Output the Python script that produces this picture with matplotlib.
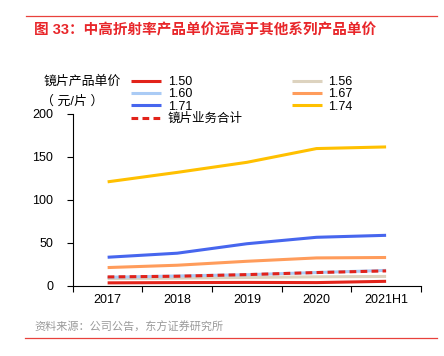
import matplotlib
matplotlib.use("Agg")
import matplotlib.pyplot as plt
from matplotlib.lines import Line2D

plt.rcParams['font.family'] = ['Liberation Sans', 'Noto Sans CJK SC', 'DejaVu Sans']

# data (元/片)
years = ['2017', '2018', '2019', '2020', '2021H1']
p150 = [3.5, 3.8, 4.0, 3.8, 5.3]
p156 = [8.5, 9.0, 9.8, 10.5, 11.0]
p160 = [10.0, 11.5, 13.0, 15.5, 18.0]
p167 = [21.3, 24.0, 28.6, 32.5, 33.0]
p171 = [33.3, 38.0, 49.0, 56.5, 58.8]
p174 = [121.0, 132.0, 143.7, 159.7, 161.6]
total = [10.4, 11.2, 13.1, 15.5, 17.4]

series = [
    ('1.50', p150, '#e2231a'),
    ('1.56', p156, '#ddd3bf'),
    ('1.60', p160, '#aacbf5'),
    ('1.67', p167, '#ff9c5b'),
    ('1.71', p171, '#4766ee'),
    ('1.74', p174, '#ffc000'),
]

fig = plt.figure(figsize=(4.44, 3.56), dpi=100)
ax = fig.add_axes([0.164, 0.197, 0.784, 0.483])

x = list(range(len(years)))
handles = {}
for name, vals, col in series:
    ln, = ax.plot(x, vals, color=col, lw=2.2, solid_capstyle='butt')
    handles[name] = ln
tl, = ax.plot(x, total, color='#e2231a', lw=2.2, ls=(0, (2.2, 1.4)))

ax.set_xlim(-0.5, len(years) - 0.5)
ax.set_ylim(0, 200)
ax.set_yticks([0, 50, 100, 150, 200])
ax.set_xticks([i - 0.5 for i in range(len(years) + 1)])
ax.set_xticklabels([])
ax.set_xticks(x, minor=True)
ax.set_xticklabels(years, minor=True)
ax.tick_params(axis='x', which='minor', length=0, labelsize=9, pad=6)
ax.tick_params(axis='x', which='major', length=4, width=0.8)
ax.tick_params(axis='y', length=4, width=0.8, labelsize=9, pad=10)
for s in ['top', 'right']:
    ax.spines[s].set_visible(False)
for s in ['left', 'bottom']:
    ax.spines[s].set_linewidth(0.8)

order = ['1.50', '1.60', '1.71', None, '1.56', '1.67', '1.74']
hs, ls = [], []
for o in order:
    if o is None:
        hs.append(tl)
        ls.append('镜片业务合计')
    else:
        hs.append(handles[o])
        ls.append(o)
fig.legend(hs, ls, ncol=2, frameon=False, fontsize=9,
           loc='upper left', bbox_to_anchor=(0.295, 0.786),
           handlelength=2.4, handletextpad=0.55, columnspacing=3.9,
           labelspacing=0.02, borderaxespad=0, borderpad=0)

fig.text(0.099, 0.772, '镜片产品单价', fontsize=9.3, va='center', ha='left')
fig.text(0.092, 0.714, '（ 元/片 ）', fontsize=9.3, va='center', ha='left')

# header / footer
fig.add_artist(Line2D([0.058, 0.985], [0.955, 0.955], color='#e8413c', lw=0.9))
fig.text(0.077, 0.916, '图 33：中高折射率产品单价远高于其他系列产品单价',
         fontsize=10.5, fontweight='bold', color='#e8262a', va='center', ha='left')
fig.text(0.077, 0.082, '资料来源：公司公告，东方证券研究所', fontsize=8,
         color='#9a9a9a', va='center', ha='left')
fig.add_artist(Line2D([0.056, 0.985], [0.051, 0.051], color='#e8413c', lw=0.9))

fig.savefig('out.png', dpi=100)
